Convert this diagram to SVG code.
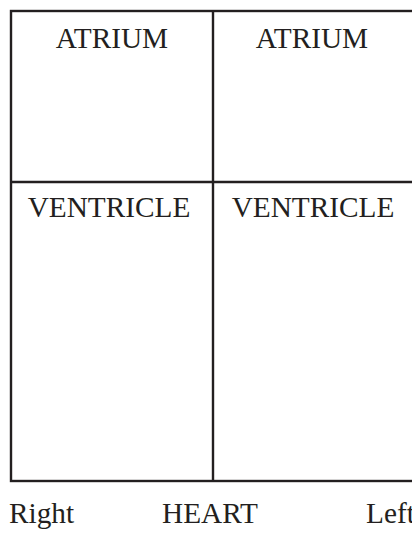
<svg xmlns="http://www.w3.org/2000/svg" width="412" height="534" viewBox="0 0 412 534">
<style>
text{font-family:"Liberation Serif","Times New Roman",serif;font-size:29.3px;fill:#231f20;text-anchor:middle}
.ln{stroke:#231f20;stroke-width:2.4;fill:none}
</style>
<rect width="412" height="534" fill="#fff"/>
<g id="connectors">
<rect class="ln" x="11" y="11" width="404" height="470"/>
<line class="ln" x1="213" y1="11" x2="213" y2="481"/>
<line class="ln" x1="11" y1="182" x2="415" y2="182"/>
</g>
<g id="right-atrium"><text x="112" y="48">ATRIUM</text></g>
<g id="left-atrium"><text x="312" y="48">ATRIUM</text></g>
<g id="right-ventricle"><text x="109" y="217">VENTRICLE</text></g>
<g id="left-ventricle"><text x="313" y="217">VENTRICLE</text></g>
<g id="labels">
<text x="9" y="523" style="text-anchor:start">Right</text>
<text x="210" y="523">HEART</text>
<text x="366" y="523" style="text-anchor:start">Left</text>
</g>
</svg>
